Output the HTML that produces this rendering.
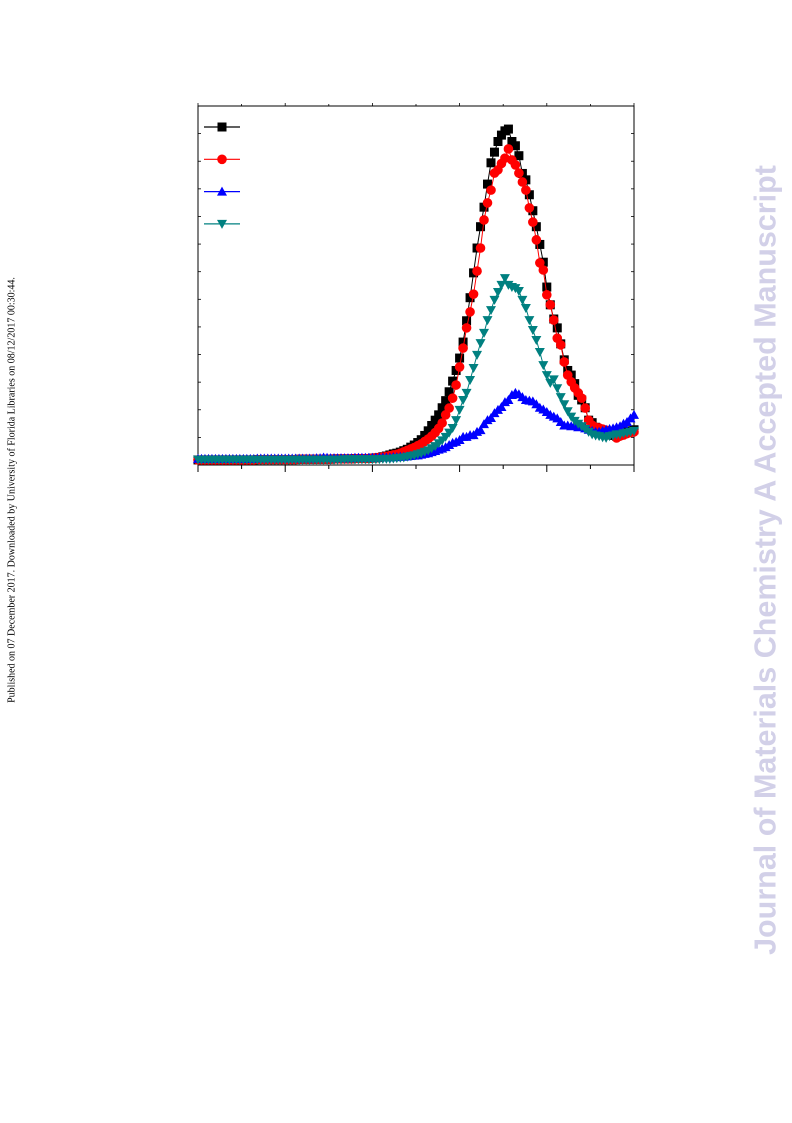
<!DOCTYPE html>
<html><head><meta charset="utf-8"><style>
html,body{margin:0;padding:0;background:#fff;}
body{width:792px;height:1123px;position:relative;overflow:hidden;font-family:"Liberation Sans",sans-serif;}
#side{position:absolute;left:12px;top:490px;transform:translate(-50%,-50%) rotate(-90deg);white-space:nowrap;font-family:"Liberation Serif",serif;font-size:10px;color:#000;}
#wm{position:absolute;left:766px;top:560px;transform:translate(-50%,-50%) rotate(-90deg);white-space:nowrap;font-family:"Liberation Sans",sans-serif;font-weight:bold;font-size:30.5px;color:#d2d0e8;}
svg{position:absolute;left:0;top:0;}
</style></head><body>
<div id="side">Published on 07 December 2017. Downloaded by University of Florida Libraries on 08/12/2017 00:30:44.</div>
<div id="wm">Journal of Materials Chemistry A Accepted Manuscript</div>
<svg id="chart" width="792" height="1123"></svg>
<script>
const xValues=[0,1,2,3,4,5,6,7,8,9,10,11,12,13,14,15,16,17,18,19,20,21,22,23,24,25,26,27,28,29,30,31,32,33,34,35,36,37,38,39,40,41,42,43,44,45,46,47,48,49,50,51,52,53,54,55,56,57,58,59,60,61,62,63,64,65,66,67,68,69,70,71,72,73,74,75,76,77,78,79,80,81,82,83,84,85,86,87,88,89,90,91,92,93,94,95,96,97,98,99,100,101,102,103,104,105,106,107,108,109,110,111,112,113,114,115,116,117,118,119,120,121,122,123,124,125];
const blackValues=[3,3,3,3,3,3,3,3,3,3,3,3,3,3,3,3,3,4,4,4,4,4,4,4,4,4,4,4,4,5,5,5,5,5,5,5,5,5,5,6,6,6,6,6,6,7,7,7,7,7,8,9,10,12,14,17,20,22,25,29,33,39,45,52,60,72,85,100,115,130,150,170,195,225,255,290,335,395,460,530,600,660,715,780,840,870,900,918,930,935,900,888,860,810,792,750,705,660,610,560,490,440,400,375,330,285,255,242,218,185,172,150,115,108,95,88,80,78,74,72,70,74,78,82,85,88];
const redValues=[3,3,3,3,3,3,3,3,3,3,3,3,3,3,3,3,3,4,4,4,4,4,4,4,4,4,4,4,4,5,5,5,5,5,5,5,5,5,5,6,6,6,6,6,6,7,7,7,7,7,8,9,10,11,13,15,17,19,22,26,30,34,38,43,48,55,62,70,80,92,107,130,149,177,214,265,318,375,420,470,535,600,679,727,763,811,820,838,853,879,848,834,811,786,763,713,673,623,558,538,468,440,397,346,327,279,242,223,206,192,177,149,115,101,95,93,90,87,82,79,65,70,73,77,80,82];
const blueValues=[6,6,6,6,6,6,6,6,6,6,6,6,6,6,6,6,6,7,7,7,7,7,7,7,7,7,7,7,7,7,7,7,7,7,8,8,10,9,8,8,8,8,8,8,8,9,9,9,9,9,9,9,10,10,10,10,11,11,12,12,13,14,15,16,18,20,22,25,28,32,35,39,45,51,54,59,68,68,73,73,82,87,104,115,121,135,144,152,166,172,186,192,188,180,172,170,168,160,150,145,138,130,125,120,110,100,100,98,100,95,100,92,88,85,82,82,85,88,90,92,95,98,105,110,120,130];
const tealValues=[4,4,4,4,4,4,4,4,4,4,4,4,4,4,4,4,4,4,4,4,4,4,4,4,4,4,4,4,4,4,4,4,4,4,4,4,4,4,4,4,4,4,5,5,5,5,5,5,5,5,5,5,5,6,6,6,7,8,9,10,12,14,16,19,22,26,30,36,42,50,58,68,80,93,115,144,172,192,228,262,299,332,361,397,425,454,476,496,515,496,490,487,479,454,431,397,369,341,307,270,242,220,230,205,180,160,140,125,113,105,98,90,82,75,72,70,67,65,70,72,75,75,78,80,82,85];
const legendColors=["#000000","#ff0000","#0000ff","#008080"];

const L=198,R=634,T=106,B=465;
const xMin=0,xMax=125,yMin=0,yMax=1000,yBase=461,yTop=106;
function sx(v){return L+(v-xMin)/(xMax-xMin)*(R-L);}
function sy(v){return yBase-(v-yMin)/(yMax-yMin)*(yBase-yTop);}
const NS="http://www.w3.org/2000/svg";
const svg=document.getElementById('chart');
function mk(tag,attrs,parent){const e=document.createElementNS(NS,tag);for(const k in attrs)e.setAttribute(k,attrs[k]);(parent||svg).appendChild(e);return e;}

// frame
const frame=mk('rect',{x:L,y:T,width:R-L,height:B-T,fill:'none',stroke:'#000','stroke-width':1});


// x ticks
for(let k=0;k<=10;k++){
  const x=L+k*(R-L)/10;const major=k%2===0;
  const t=mk('line',{x1:x,x2:x,y1:B,y2:B+(major?7:4),stroke:'#000','stroke-width':1});
  
  
  const t2=mk('line',{x1:x,x2:x,y1:T,y2:T-(major?3:2),stroke:'#000','stroke-width':0.8});
  
  
}
// y ticks
for(let k=1;k<13;k++){
  const y=B-k*(B-T)/13;
  const a=mk('line',{x1:L,x2:L+3,y1:y,y2:y,stroke:'#000','stroke-width':0.8});
  
  
  const b=mk('line',{x1:R,x2:R-3,y1:y,y2:y,stroke:'#000','stroke-width':0.8});
  
  
}

function marker(shape,cx,cy,color,g){
  const s=4.5;let e;
  if(shape==='square'){e=mk('rect',{x:cx-s,y:cy-s,width:2*s,height:2*s,fill:color},g);}
  else if(shape==='circle'){e=mk('circle',{cx:cx,cy:cy,r:s+0.3,fill:color},g);}
  else if(shape==='up'){e=mk('polygon',{points:`${cx},${cy-s-0.5} ${cx+s+0.5},${cy+s-0.5} ${cx-s-0.5},${cy+s-0.5}`,fill:color},g);}
  else {e=mk('polygon',{points:`${cx},${cy+s+0.5} ${cx+s+0.5},${cy-s+0.5} ${cx-s-0.5},${cy-s+0.5}`,fill:color},g);}
  return e;
}
const series=[
  {name:'series-black',vals:blackValues,color:legendColors[0],shape:'square'},
  {name:'series-red',vals:redValues,color:legendColors[1],shape:'circle'},
  {name:'series-blue',vals:blueValues,color:legendColors[2],shape:'up'},
  {name:'series-teal',vals:tealValues,color:legendColors[3],shape:'down'}
];
series.forEach((s,si)=>{
  const g=mk('g',{});
  
  
  const pts=xValues.map((x,i)=>sx(x)+','+sy(s.vals[i])).join(' ');
  mk('polyline',{points:pts,fill:'none',stroke:s.color,'stroke-width':1},g);
  xValues.forEach((x,i)=>{
    const m=marker(s.shape,sx(x),sy(s.vals[i]),s.color,g);
    
    
  });
  // legend
  const ly=127+si*32.3;
  const lg=mk('g',{});
  
  
  mk('line',{x1:204,x2:240,y1:ly,y2:ly,stroke:s.color,'stroke-width':1.2},lg);
  marker(s.shape,222,ly,s.color,lg);
});
</script>
</body></html>
